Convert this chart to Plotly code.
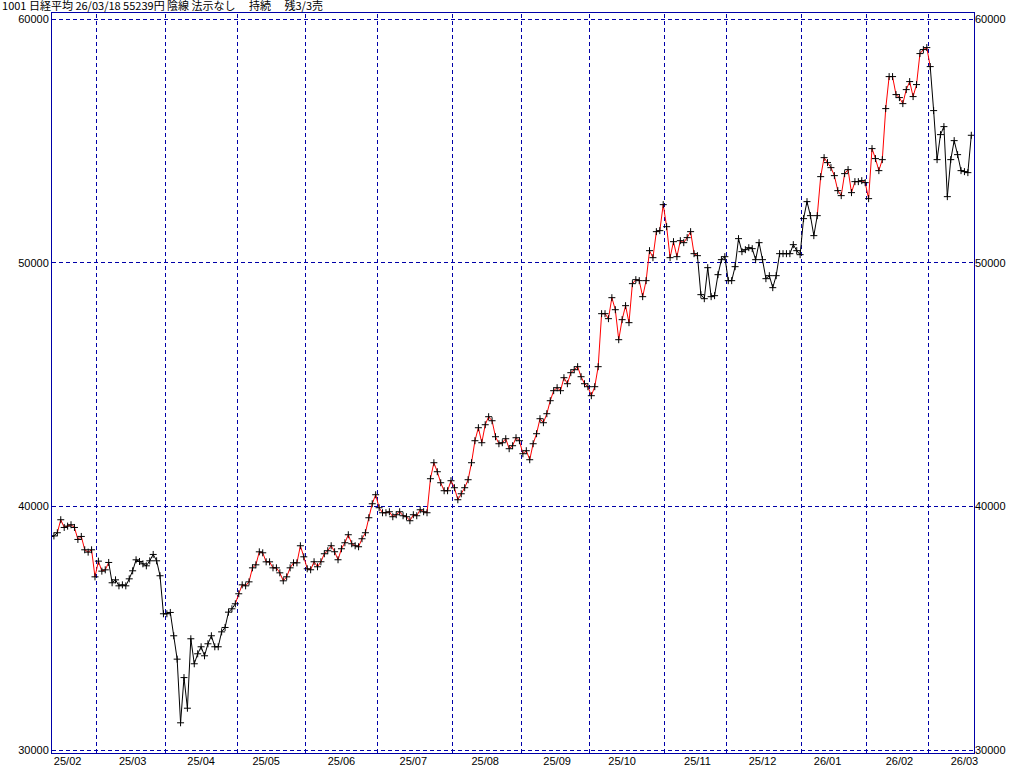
import math
import pandas as pd
import plotly.graph_objects as go

# ---------------- data (closing prices) ----------------
closes_2025_02 = [38770, 38790, 38920, 39454, 39137, 39191, 39248, 39137, 38645, 38768,
                  38220, 38124, 38220, 37110]
closes_2025_03 = [37754, 37343, 37397, 37700, 36866, 36987, 36740, 36781, 36740, 37028,
                  37357, 37809, 37741, 37644, 37562, 37768, 38029, 37768, 37154, 35593]
closes_2025_04 = [35593, 35647, 34690, 33730, 31117, 32973, 31716, 34567, 33540, 33950,
                  34238, 33868, 34361, 34690, 34238, 34238, 34850, 35031, 35659, 35797, 36003]
closes_2025_05 = [36414, 36781, 36740, 36904, 37479, 37603, 38137, 38096, 37726, 37726,
                  37479, 37479, 37274, 36946, 37110, 37479, 37685, 37685, 38386, 37932]
closes_2025_06 = [37441, 37400, 37729, 37523, 37729, 38057, 38181, 38386, 38140, 37811,
                  38263, 38509, 38838, 38468, 38386, 38345, 38673, 38920, 39536, 40111, 40481]
closes_2025_07 = [39947, 39741, 39741, 39782, 39577, 39659, 39782, 39618, 39577, 39413,
                  39659, 39618, 39864, 39782, 39741, 41138, 41795, 41425, 40973, 40645,
                  40645, 41056]
closes_2025_08 = [40768, 40275, 40521, 40768, 41097, 41795, 42698, 43232, 42616, 43355,
                  43684, 43519, 42862, 42575, 42616, 42780, 42370, 42493, 42821, 42698]
closes_2025_09 = [42164, 42288, 41918, 42575, 42986, 43602, 43437, 43807, 44341, 44752,
                  44875, 44752, 45286, 45039, 45491, 45614, 45738, 45327, 45039, 44916]
closes_2025_10 = [44547, 44916, 45738, 47914, 47914, 47709, 48571, 48078, 46846, 47668,
                  48243, 47545, 49147, 49311, 49270, 48613, 49270, 50501, 50214, 51282,
                  51323, 52391]
closes_2025_11 = [51487, 50214, 50871, 50255, 50912, 50830, 51036, 51282, 50378, 50296,
                  48695, 48530, 49803, 48613, 48654, 49516, 50132, 50255]
closes_2025_12 = [49270, 49270, 49844, 50995, 50460, 50542, 50624, 50583, 50132, 50830,
                  50132, 49352, 49475, 48982, 49475, 50378, 50378, 50378, 50378, 50748,
                  50501, 50337]
closes_2026_01 = [51816, 52514, 51939, 51118, 51939, 53541, 54321, 54116, 53910, 53582,
                  52966, 52761, 53664, 53828, 52884, 53335, 53335, 53376, 53294]
closes_2026_02 = [52637, 54691, 54281, 53787, 54239, 56334, 57648, 57648, 56909, 56786,
                  56539, 57114, 57443, 56827, 57320, 58593, 58757, 58839]
closes_2026_03 = [58059, 56252, 54239, 55266, 55594, 52719, 54239, 55019, 54444, 53787,
                  53746, 53705, 55239]

first_day = "2025-02-07"
last_day = "2026-03-18"
market_holidays = ["2025-02-11", "2025-02-24", "2025-03-20", "2025-04-29", "2025-05-05",
                   "2025-05-06", "2025-07-21", "2025-08-11", "2025-09-15", "2025-09-23",
                   "2025-10-13", "2025-11-03", "2025-11-24", "2025-12-31", "2026-01-01",
                   "2026-01-02", "2026-01-12", "2026-02-11", "2026-02-23"]

# periods in which the connecting segment (ending on that day) is drawn red
red_periods = [("2025-02-13", "2025-03-06"),
               ("2025-05-01", "2025-11-17"),
               ("2026-01-13", "2026-03-02")]

y_ticks = [30000, 40000, 50000, 60000]
title_text = "1001 日経平均 26/03/18 55239円 陰線 法示なし　 持続　 残3/3売"

# ---------------- assemble ----------------
closes = (closes_2025_02 + closes_2025_03 + closes_2025_04 + closes_2025_05 + closes_2025_06
          + closes_2025_07 + closes_2025_08 + closes_2025_09 + closes_2025_10 + closes_2025_11
          + closes_2025_12 + closes_2026_01 + closes_2026_02 + closes_2026_03)

hol = set(market_holidays)
dates = [d for d in pd.bdate_range(first_day, last_day) if d.strftime("%Y-%m-%d") not in hol]
assert len(dates) == len(closes), (len(dates), len(closes))
n = len(closes)
idx = list(range(n))


def is_red(d):
    s = d.strftime("%Y-%m-%d")
    return any(a <= s <= b for a, b in red_periods)


red_x, red_y, blk_x, blk_y = [], [], [], []
for i in range(1, n):
    if is_red(dates[i]):
        red_x += [i - 1, i, None]
        red_y += [closes[i - 1], closes[i], None]
    else:
        blk_x += [i - 1, i, None]
        blk_y += [closes[i - 1], closes[i], None]

# month boundaries and label positions (first trading day on/after the 15th)
boundaries = [i - 0.5 for i in range(1, n) if dates[i].month != dates[i - 1].month]
label_pos, label_txt, seen = [], [], set()
for i, d in enumerate(dates):
    key = (d.year, d.month)
    if key not in seen and d.day >= 15:
        seen.add(key)
        label_pos.append(i)
        label_txt.append(d.strftime("%y/%m"))

NAVY = "#0000A8"
DASH = "4px,3px"
W, H = 1024, 767
ML, MR, MT, MB = 52, 50, 13, 14
xr = [0.44, n - 1 + 0.79]
yr = [29877, 60259]

# snap the month separators onto pixel centres so they render crisp
k = (W - ML - MR) / (xr[1] - xr[0])
snapped = []
for b in boundaries:
    px = (b - xr[0]) * k
    px = math.floor(px) + 0.5
    snapped.append(xr[0] + px / k)

fig = go.Figure()
fig.add_trace(go.Scatter(x=blk_x, y=blk_y, mode="lines", line=dict(color="black", width=1),
                         hoverinfo="skip", showlegend=False, connectgaps=False))
fig.add_trace(go.Scatter(x=red_x, y=red_y, mode="lines", line=dict(color="#FF0000", width=1),
                         hoverinfo="skip", showlegend=False, connectgaps=False))
fig.add_trace(go.Scatter(x=idx, y=closes, mode="markers", yaxis="y2",
                         marker=dict(symbol="cross-thin", size=5, color="black",
                                     line=dict(color="black", width=1)),
                         showlegend=False))

for sx in snapped:
    fig.add_shape(type="line", xref="x", yref="paper", x0=sx, x1=sx, y0=0, y1=1,
                  line=dict(color=NAVY, width=1, dash=DASH), layer="below")

tick_font = dict(family="Liberation Sans, Arial, sans-serif", size=11, color="black")

fig.update_layout(
    width=W, height=H,
    margin=dict(l=ML, r=MR, t=MT, b=MB, pad=0, autoexpand=False),
    paper_bgcolor="white", plot_bgcolor="white",
    title=dict(text=title_text, x=0.002, xref="container", xanchor="left",
               y=0.9975, yref="container", yanchor="top",
               font=dict(family="Noto Sans CJK JP", size=11, color="black")),
    xaxis=dict(range=xr, tickmode="array", tickvals=label_pos, ticktext=label_txt,
               showgrid=False, zeroline=False, showline=True, mirror=True, automargin=False,
               linecolor=NAVY, linewidth=1, ticks="", tickfont=tick_font,
               ticklabelstandoff=-2),
    yaxis=dict(range=yr, tickmode="array", tickvals=y_ticks, ticktext=[str(v) for v in y_ticks],
               showgrid=True, gridcolor=NAVY, gridwidth=1, griddash=DASH, automargin=False,
               zeroline=False, showline=True, mirror=True, linecolor=NAVY, linewidth=1,
               ticks="", tickfont=tick_font),
    yaxis2=dict(range=yr, overlaying="y", side="right", tickmode="array", tickvals=y_ticks,
                ticktext=[str(v) for v in y_ticks], showgrid=False, zeroline=False,
                automargin=False, showline=False, ticks="", tickfont=tick_font),
)

fig.write_html("out.html", config={"displayModeBar": False},
               post_script="document.body.style.margin='0';")
